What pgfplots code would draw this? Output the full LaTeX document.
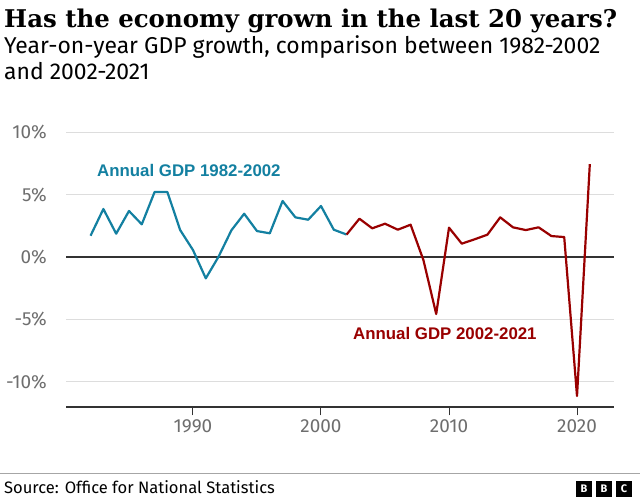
\documentclass[border=0pt]{standalone}
\usepackage{fontspec}
\setmainfont{Fira Sans}
\newfontfamily\titlefont{DejaVu Serif}
\newfontfamily\labfont{Liberation Sans}
\usepackage{pgfplots}
\pgfplotsset{compat=1.18}
\definecolor{bbcteal}{HTML}{1380A1}
\definecolor{bbcred}{HTML}{990000}
\definecolor{tickgray}{HTML}{6E6E6E}
\definecolor{gridgray}{HTML}{DDDDDD}
\definecolor{axisdark}{HTML}{333333}
\begin{document}
\begin{tikzpicture}[x=1bp,y=1bp]
\useasboundingbox[fill=white] (0,0) rectangle (640,500);
\begin{axis}[
  at={(66bp,92.7bp)}, anchor=south west,
  scale only axis, width=548bp, height=275bp,
  xmin=1980.08, xmax=2022.89,
  ymin=-12.05, ymax=10,
  axis x line*=bottom, axis y line*=left,
  y axis line style={draw=none},
  x axis line style={draw=axisdark, line width=1.6bp, -},
  xtick={1990,2000,2010,2020},
  xticklabels={1990,2000,2010,2020},
  ytick={-10,-5,0,5,10},
  yticklabels={-10\%,-5\%,0\%,5\%,10\%},
  ymajorgrids, grid style={draw=gridgray, line width=1bp},
  tick align=outside,
  xtick style={draw=axisdark, line width=1bp},
  major tick length=8bp,
  ytick style={draw=none},
  ticklabel style={font=\fontsize{19}{19}\selectfont, text=tickgray},
  yticklabel style={anchor=east, inner sep=0pt, xshift=-11bp},
  xticklabel style={anchor=north, inner sep=0pt, yshift=-4bp},
  clip=false,
]
\draw[axisdark, line width=1.3bp] (axis cs:1980.08,0) -- (axis cs:2022.89,0);
\addplot[bbcteal, line width=2.2bp, line join=round] coordinates {
(1982,1.71) (1983,3.85) (1984,1.87) (1985,3.69) (1986,2.62) (1987,5.21)
(1988,5.21) (1989,2.16) (1990,0.56) (1991,-1.71) (1992,0.03) (1993,2.14)
(1994,3.47) (1995,2.08) (1996,1.90) (1997,4.49) (1998,3.18) (1999,2.99)
(2000,4.09) (2001,2.19) (2002,1.80)
};
\addplot[bbcred, line width=2.2bp, line join=round] coordinates {
(2002,1.80) (2003,3.07) (2004,2.30) (2005,2.67) (2006,2.19) (2007,2.59)
(2008,-0.24) (2009,-4.57) (2010,2.35) (2011,1.07) (2012,1.42) (2013,1.79)
(2014,3.18) (2015,2.38) (2016,2.16) (2017,2.38) (2018,1.68) (2019,1.60)
(2020,-11.15) (2021,7.45)
};
\end{axis}
% texts
\node[anchor=base west, inner sep=0pt] at (4,472) {\titlefont\bfseries\fontsize{24.5}{24.5}\selectfont Has the economy grown in the last 20 years?};
\node[anchor=base west, inner sep=0pt] at (4,446) {\fontsize{23}{23}\selectfont Year-on-year GDP growth, comparison between 1982-2002};
\node[anchor=base west, inner sep=0pt] at (4,420) {\fontsize{23}{23}\selectfont and 2002-2021};
\node[anchor=west, inner sep=0pt, text=bbcteal] at (97,330) {\labfont\bfseries\fontsize{16.9}{16.9}\selectfont Annual GDP 1982-2002};
\node[anchor=west, inner sep=0pt, text=bbcred] at (353,167) {\labfont\bfseries\fontsize{16.9}{16.9}\selectfont Annual GDP 2002-2021};
% footer
\draw[draw=gray!70, line width=1bp] (0,26) -- (640,26);
\node[anchor=base west, inner sep=0pt] at (4,6) {\fontsize{16.6}{16.6}\selectfont Source: Office for National Statistics};
\foreach \xx/\ll in {576/B,596/B,616/C}{
  \fill[black] (\xx,3) rectangle ++(16,16);
  \node[text=white, inner sep=0pt] at (\xx+8,11) {\bfseries\fontsize{11}{11}\selectfont \ll};
}
\end{tikzpicture}
\end{document}
